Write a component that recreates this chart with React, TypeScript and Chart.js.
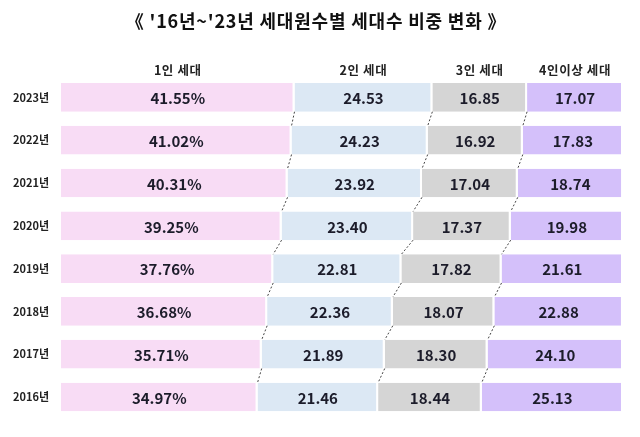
import { useEffect, useRef } from 'react';
import { Chart, ChartConfiguration, Plugin, registerables } from 'chart.js';

Chart.register(...registerables);

const FONT = "'Noto Sans CJK KR', 'Noto Sans', sans-serif";

const titleText = "《 '16년~'23년 세대원수별 세대수 비중 변화 》";
const years = ['2023년', '2022년', '2021년', '2020년', '2019년', '2018년', '2017년', '2016년'];
const seriesNames = ['1인 세대', '2인 세대', '3인 세대', '4인이상 세대'];
const onePerson = [41.55, 41.02, 40.31, 39.25, 37.76, 36.68, 35.71, 34.97];
const twoPerson = [24.53, 24.23, 23.92, 23.4, 22.81, 22.36, 21.89, 21.46];
const threePerson = [16.85, 16.92, 17.04, 17.37, 17.82, 18.07, 18.3, 18.44];
const fourPlus = [17.07, 17.83, 18.74, 19.98, 21.61, 22.88, 24.1, 25.13];
const colors = ['#f8dcf5', '#dce8f4', '#d5d5d5', '#d4c0fa'];

// title, column headers, value labels and the dotted links between rows
const decorPlugin: Plugin<'bar'> = {
  id: 'decor',
  afterDatasetsDraw(chart) {
    const { ctx } = chart;
    ctx.save();

    // dotted connectors at each segment boundary
    ctx.strokeStyle = '#444';
    ctx.lineWidth = 1;
    ctx.setLineDash([2, 2]);
    for (let d = 0; d < 3; d++) {
      const bars = chart.getDatasetMeta(d).data;
      for (let i = 0; i < bars.length - 1; i++) {
        const a: any = bars[i].getProps(['x', 'y', 'height'], true);
        const b: any = bars[i + 1].getProps(['x', 'y', 'height'], true);
        ctx.beginPath();
        ctx.moveTo(a.x, a.y + a.height / 2);
        ctx.lineTo(b.x, b.y - b.height / 2);
        ctx.stroke();
      }
    }
    ctx.setLineDash([]);

    // value labels
    ctx.fillStyle = '#1c1c2a';
    ctx.font = `bold 15px ${FONT}`;
    ctx.textAlign = 'center';
    ctx.textBaseline = 'middle';
    chart.data.datasets.forEach((ds, d) => {
      chart.getDatasetMeta(d).data.forEach((bar, i) => {
        const p: any = bar.getProps(['x', 'y', 'base'], true);
        const v = (ds.data[i] as number).toFixed(2) + (d === 0 ? '%' : '');
        ctx.fillText(v, (p.x + p.base) / 2, p.y + 1);
      });
    });

    // column headers above the first row
    ctx.fillStyle = '#222';
    ctx.font = `bold 12.5px ${FONT}`;
    (ctx as any).letterSpacing = '0.6px';
    chart.data.datasets.forEach((ds, d) => {
      const p: any = chart.getDatasetMeta(d).data[0].getProps(['x', 'base'], true);
      ctx.fillText(ds.label as string, (p.x + p.base) / 2, 70);
    });

    // title
    ctx.fillStyle = '#111';
    ctx.font = `bold 18px ${FONT}`;
    (ctx as any).letterSpacing = '0.8px';
    ctx.fillText(titleText, 316, 21);

    ctx.restore();
  },
};

export default function App() {
  const canvasRef = useRef<HTMLCanvasElement>(null);

  useEffect(() => {
    if (!canvasRef.current) return;
    const values = [onePerson, twoPerson, threePerson, fourPlus];

    const config: ChartConfiguration<'bar'> = {
      type: 'bar',
      data: {
        labels: years,
        datasets: seriesNames.map((name, d) => ({
          label: name,
          data: values[d],
          backgroundColor: colors[d],
          borderColor: '#ffffff',
          borderWidth: { top: 0, bottom: 0, left: 0, right: 2 },
          borderSkipped: false,
          barPercentage: 0.67,
          categoryPercentage: 1,
        })),
      },
      options: {
        indexAxis: 'y',
        responsive: true,
        maintainAspectRatio: false,
        animation: false,
        layout: { padding: { top: 76, bottom: 0, right: 17, left: 0 } },
        plugins: {
          legend: { display: false },
          title: { display: false },
          tooltip: { enabled: false },
        },
        scales: {
          x: { stacked: true, min: 0, max: 100, display: false },
          y: {
            stacked: true,
            grid: { display: false, drawTicks: false },
            border: { display: false },
            ticks: { padding: 12, color: '#222', font: { family: FONT, size: 11, weight: 'bold' } },
            afterFit: (scale) => { scale.width = 61; },
          },
        },
      },
      plugins: [decorPlugin],
    };

    const chart = new Chart(canvasRef.current, config);
    return () => { chart.destroy(); };
  }, []);

  return (
    <div style={{ position: 'absolute', left: 0, top: 0, width: 640, height: 437, background: '#fff' }}>
      <canvas ref={canvasRef} />
    </div>
  );
}
